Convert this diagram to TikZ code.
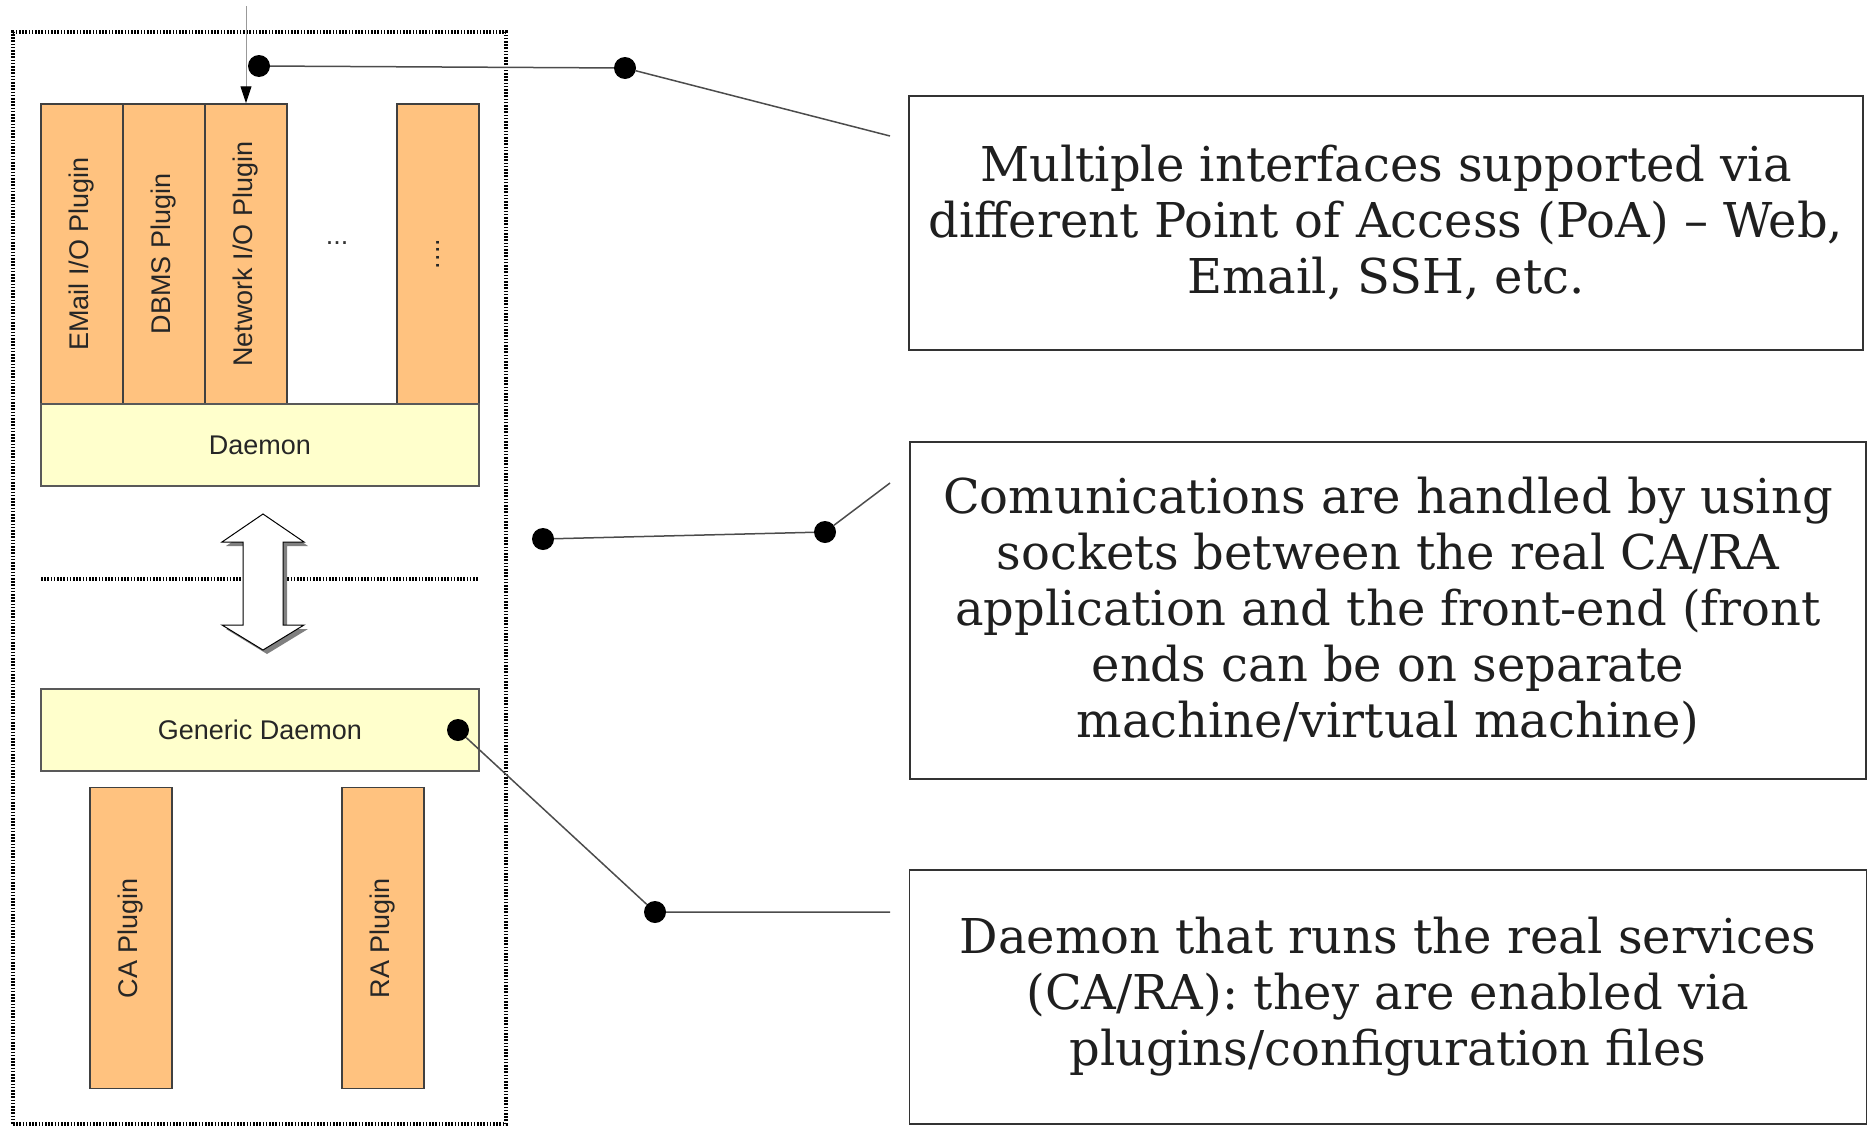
\documentclass[tikz,border=0pt]{standalone}
\usepackage{fontspec}
\setmainfont{DejaVu Serif}
\setsansfont{Liberation Sans}
\usepackage{xcolor}
\usepackage{tikz}
\usetikzlibrary{arrows.meta,positioning,calc}
\definecolor{plugorange}{HTML}{FFC27F}
\definecolor{daemonyellow}{HTML}{FFFFCC}

\begin{document}
\begin{tikzpicture}[x=1pt, y=-1pt,
	plugin/.style={draw=black!75, line width=1.5pt, fill=plugorange, inner sep=0pt, minimum width=82pt, minimum height=300pt, font=\sffamily\fontsize{27}{30}\selectfont, text=black!85},
	daemonbox/.style={draw=black!65, line width=1.5pt, fill=daemonyellow, inner sep=0pt, minimum width=438pt, minimum height=82pt, font=\sffamily\fontsize{27}{30}\selectfont, text=black!85},
	note/.style={draw=black!80, line width=1.5pt, inner sep=0pt, align=center, font=\fontsize{48}{56}\selectfont, text=black!88},
	dot/.style={circle, fill=black, inner sep=0pt, minimum size=22pt},
	link/.style={black!70, line width=1.5pt},
	sepline/.style={line width=3.5pt, dash pattern=on 1.6pt off 1.6pt}
	]
	\useasboundingbox (0,0) rectangle (1873,1127);
	\node[sepline, draw, minimum width=493pt, minimum height=1092pt, inner sep=0pt] (frame) at (259.5,578) {};

	\node[plugin] (email) at (82,254) {\rotatebox{90}{EMail I/O Plugin}};
	\node[plugin] (dbms) at (164,254) {\rotatebox{90}{DBMS Plugin}};
	\node[plugin] (network) at (246,254) {\rotatebox{90}{Network I/O Plugin}};
	\node[font=\sffamily\fontsize{27}{30}\selectfont, text=black!80, anchor=base] (moredots) at (337,244) {...};
	\node[plugin] (more) at (438,254) {\rotatebox{90}{....}};
	\node[daemonbox] (daemon) at (260,445) {Daemon};

	\draw[sepline] (41,579) -- (479,579);
	\fill[black!50] (267,518) -- (308,546) -- (287,546) -- (287,629) -- (308,629) -- (267,654) -- (226,629) -- (247,629) -- (247,546) -- (226,546) -- cycle;
	\draw[fill=white, line width=1pt] (263,514) -- (304,542) -- (283,542) -- (283,625) -- (304,625) -- (263,650) -- (222,625) -- (243,625) -- (243,542) -- (222,542) -- cycle;

	\node[daemonbox] (gendaemon) at (260,730) {Generic Daemon};
	\node[plugin, minimum height=301pt] (caplug) at (131,938) {\rotatebox{90}{CA Plugin}};
	\node[plugin, minimum height=301pt] (raplug) at (383,938) {\rotatebox{90}{RA Plugin}};

	\node[note, minimum width=954pt, minimum height=254pt] (poa) at (1386,223) {Multiple interfaces supported via\\different Point of Access (PoA) -- Web,\\Email, SSH, etc.};
	\node[note, minimum width=956pt, minimum height=337pt] (sockets) at (1388,610.5) {Comunications are handled by using\\sockets between the real CA/RA\\application and the front-end (front\\ends can be on separate\\machine/virtual machine)};
	\node[note, minimum width=957pt, minimum height=254pt] (services) at (1388,997) {Daemon that runs the real services\\(CA/RA): they are enabled via\\plugins/configuration files};

	\coordinate (feed) at (246,6);
	\draw[black!40, line width=1pt, -{Triangle[length=17pt,width=11pt,black]}] (feed) -- (network.north);

	\node[dot] (d1) at (259,66) {};
	\node[dot] (d2) at (625,68) {};
	\node[dot] (d3) at (543,539) {};
	\node[dot] (d4) at (825,532) {};
	\node[dot] (d5) at (458,730) {};
	\node[dot] (d6) at (655,912) {};
	\coordinate (c1) at (890,136);
	\coordinate (c2) at (890,483);
	\coordinate (c3) at (890,912);
	\draw[link] (d1) -- (d2) -- (c1);
	\draw[link] (d3) -- (d4) -- (c2);
	\draw[link] (d5) -- (d6) -- (c3);
\end{tikzpicture}
\end{document}
